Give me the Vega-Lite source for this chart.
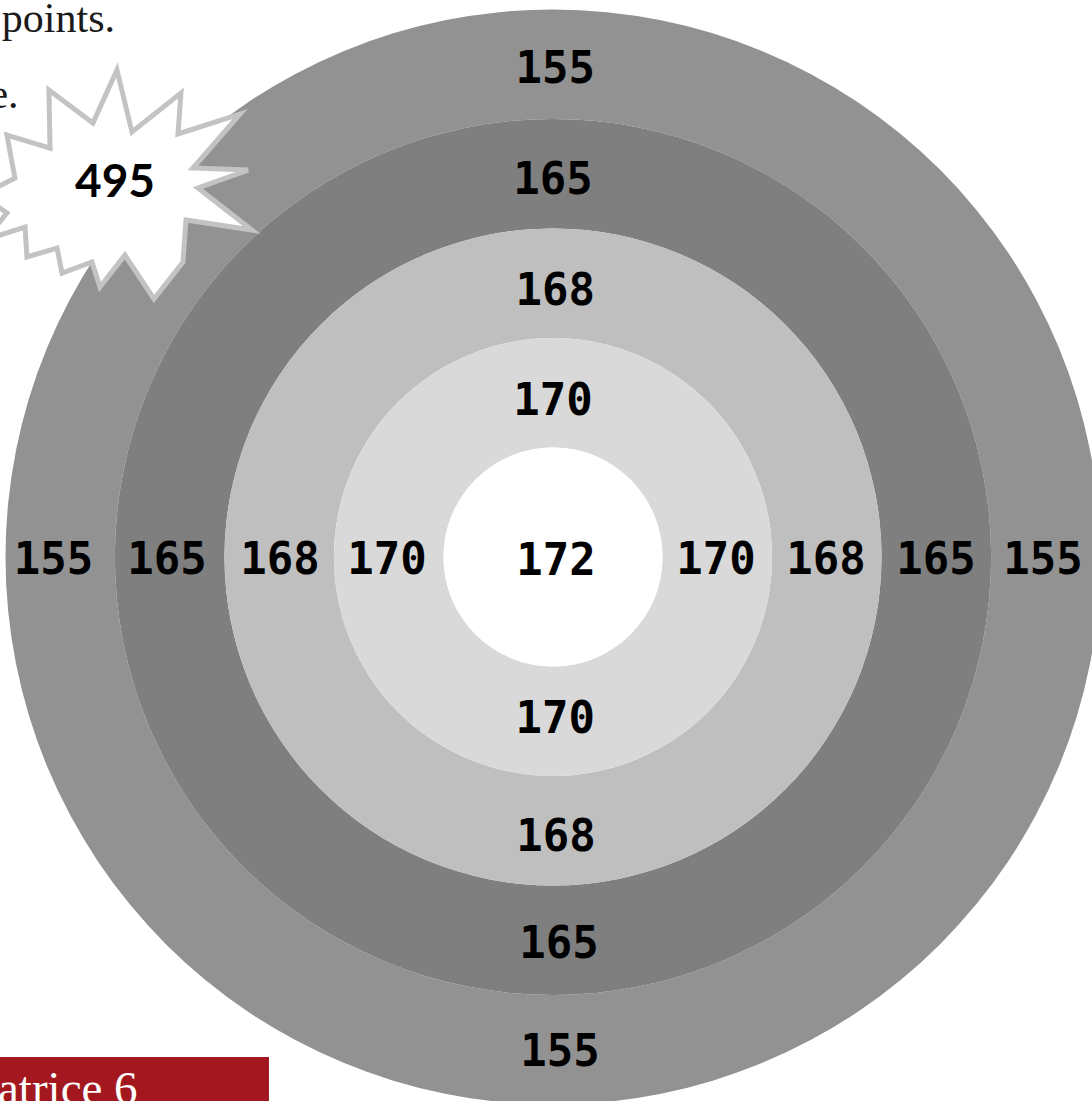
{
  "$schema": "https://vega.github.io/schema/vega-lite/v6.json",
  "autosize": {"type": "none"},
  "width": 1092,
  "height": 1101,
  "padding": 0,
  "background": "white",
  "view": {"stroke": null},
  "datasets": {
    "rings": [
      {"ring": "155", "inner": 4, "outer": 5},
      {"ring": "165", "inner": 3, "outer": 4},
      {"ring": "168", "inner": 2, "outer": 3},
      {"ring": "170", "inner": 1, "outer": 2},
      {"ring": "172", "inner": 0, "outer": 1}
    ],
    "labels": [
      {"label": "155", "x": 0.02, "y": 4.443},
      {"label": "165", "x": 0.0, "y": 3.434},
      {"label": "168", "x": 0.02, "y": 2.42},
      {"label": "170", "x": 0.0, "y": 1.416},
      {"label": "172", "x": 0.027, "y": -0.046},
      {"label": "155", "x": -4.562, "y": -0.041},
      {"label": "165", "x": -3.525, "y": -0.041},
      {"label": "168", "x": -2.493, "y": -0.041},
      {"label": "170", "x": -1.516, "y": -0.041},
      {"label": "170", "x": 1.489, "y": -0.041},
      {"label": "168", "x": 2.493, "y": -0.041},
      {"label": "165", "x": 3.498, "y": -0.041},
      {"label": "155", "x": 4.475, "y": -0.041},
      {"label": "170", "x": 0.02, "y": -1.489},
      {"label": "168", "x": 0.027, "y": -2.566},
      {"label": "165", "x": 0.055, "y": -3.543},
      {"label": "155", "x": 0.064, "y": -4.534}
    ]
  },
  "layer": [
    {
      "data": {"name": "rings"},
      "mark": {"type": "arc", "theta": 0, "theta2": 6.2832},
      "encoding": {
        "x": {"datum": 0, "type": "quantitative", "scale": {"domain": [-5.0502, 4.9224], "nice": false, "zero": false}, "axis": null},
        "y": {"datum": 0, "type": "quantitative", "scale": {"domain": [-4.968, 5.0868], "nice": false, "zero": false}, "axis": null},
        "radius": {"field": "outer", "type": "quantitative", "scale": {"type": "linear", "domain": [0, 5], "range": [0, 547.5], "zero": true}},
        "radius2": {"field": "inner"},
        "color": {"field": "ring", "type": "nominal", "scale": {"domain": ["155", "165", "168", "170", "172"], "range": ["#929292", "#7f7f7f", "#bfbfbf", "#d9d9d9", "#ffffff"]}, "legend": null}
      }
    },
    {
      "data": {"values": [{"value": 495, "x": -3.982, "y": 3.397}]},
      "mark": {
        "type": "point",
        "shape": "M0,-0.852L0.111,-0.393L0.474,-0.681L0.452,-0.378L0.911,-0.526L0.563,-0.126L0.970,-0.111L0.600,0.022L1.0,0.333L0.511,0.259L0.489,0.570L0.274,0.844L0.059,0.519L-0.126,0.756L-0.185,0.570L-0.407,0.652L-0.444,0.467L-0.667,0.533L-0.681,0.311L-0.978,0.407L-0.815,0.207L-1.0,0.074L-0.756,-0.052L-0.815,-0.370L-0.496,-0.274L-0.504,-0.704L-0.178,-0.459Z",
        "size": 72900,
        "filled": true,
        "fill": "#ffffff",
        "stroke": "#c3c3c3",
        "strokeWidth": 5,
        "opacity": 1,
        "strokeJoin": "miter"
      },
      "encoding": {
        "x": {"field": "x", "type": "quantitative", "scale": {"domain": [-5.0502, 4.9224], "nice": false, "zero": false}, "axis": null},
        "y": {"field": "y", "type": "quantitative", "scale": {"domain": [-4.968, 5.0868], "nice": false, "zero": false}, "axis": null}
      }
    },
    {
      "data": {"values": [{"value": "495", "x": -4.0, "y": 3.416}]},
      "mark": {"type": "text", "font": "Lato", "fontWeight": "bold", "fontSize": 46, "align": "center", "baseline": "middle", "color": "#000000"},
      "encoding": {
        "x": {"field": "x", "type": "quantitative", "scale": {"domain": [-5.0502, 4.9224], "nice": false, "zero": false}, "axis": null},
        "y": {"field": "y", "type": "quantitative", "scale": {"domain": [-4.968, 5.0868], "nice": false, "zero": false}, "axis": null},
        "text": {"field": "value"}
      }
    },
    {
      "data": {"name": "labels"},
      "mark": {"type": "text", "font": "DejaVu Sans Mono", "fontWeight": "bold", "fontSize": 44, "align": "center", "baseline": "middle", "color": "#000000"},
      "encoding": {
        "x": {"field": "x", "type": "quantitative", "scale": {"domain": [-5.0502, 4.9224], "nice": false, "zero": false}, "axis": null},
        "y": {"field": "y", "type": "quantitative", "scale": {"domain": [-4.968, 5.0868], "nice": false, "zero": false}, "axis": null},
        "text": {"field": "label"}
      }
    },
    {
      "data": {"values": [{"x": -5.14, "x2": -2.594, "y": -4.566, "y2": -5.2}]},
      "mark": {"type": "rect", "color": "#a3181f"},
      "encoding": {
        "x": {"field": "x", "type": "quantitative", "scale": {"domain": [-5.0502, 4.9224], "nice": false, "zero": false}, "axis": null},
        "x2": {"field": "x2"},
        "y": {"field": "y", "type": "quantitative", "scale": {"domain": [-4.968, 5.0868], "nice": false, "zero": false}, "axis": null},
        "y2": {"field": "y2"}
      }
    },
    {
      "data": {"values": [{"t": "Matrice 6", "x": -5.45, "y": -4.995}]},
      "mark": {"type": "text", "font": "Liberation Serif", "fontSize": 47, "align": "left", "baseline": "alphabetic", "color": "#ffffff"},
      "encoding": {
        "x": {"field": "x", "type": "quantitative", "scale": {"domain": [-5.0502, 4.9224], "nice": false, "zero": false}, "axis": null},
        "y": {"field": "y", "type": "quantitative", "scale": {"domain": [-4.968, 5.0868], "nice": false, "zero": false}, "axis": null},
        "text": {"field": "t"}
      }
    },
    {
      "data": {"values": [
        {"t": "points.", "x": -4.0, "y": 4.795},
        {"t": "e.", "x": -4.88, "y": 4.1}
      ]},
      "mark": {"type": "text", "font": "Liberation Serif", "fontSize": 42, "align": "right", "baseline": "alphabetic", "color": "#1a1a1a"},
      "encoding": {
        "x": {"field": "x", "type": "quantitative", "scale": {"domain": [-5.0502, 4.9224], "nice": false, "zero": false}, "axis": null},
        "y": {"field": "y", "type": "quantitative", "scale": {"domain": [-4.968, 5.0868], "nice": false, "zero": false}, "axis": null},
        "text": {"field": "t"}
      }
    }
  ]
}
